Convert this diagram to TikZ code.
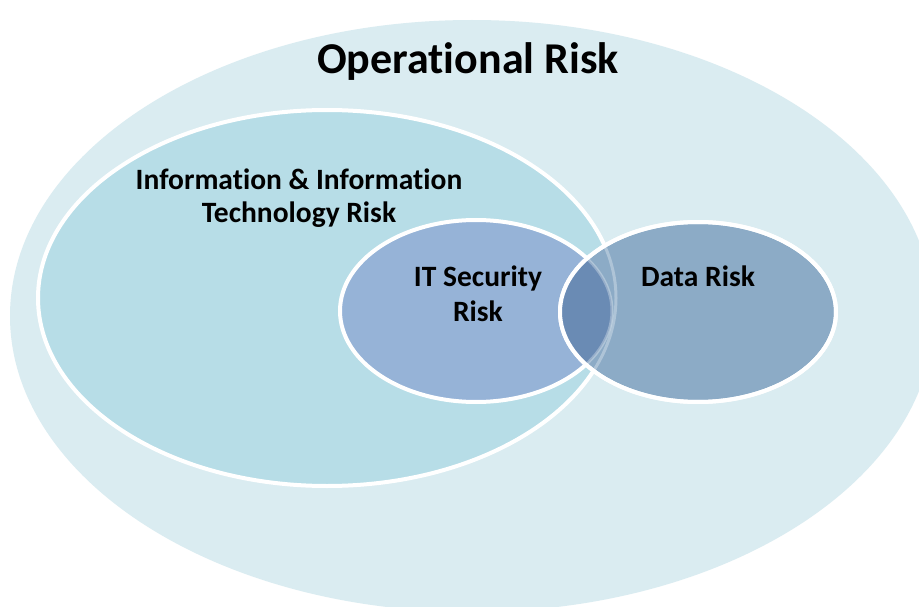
\documentclass[tikz,border=0pt]{standalone}
\usepackage{fontspec}
\setmainfont{Carlito}[Ligatures=NoCommon]
\definecolor{outerc}{HTML}{DAECF1}
\definecolor{infoc}{HTML}{B7DDE7}
\definecolor{itc}{HTML}{96B3D7}
\definecolor{datac}{HTML}{8CABC6}
\definecolor{overc}{HTML}{6A8BB4}
\tikzset{
  ring/.style={draw=white, line width=4pt},
  lbl/.style={font=\bfseries, text=black, align=center, inner sep=0pt}
}
\begin{document}
\begin{tikzpicture}[x=1pt,y=-1pt]
\useasboundingbox (0,0) rectangle (919,607);
\fill[white] (0,0) rectangle (919,607);
% outer
\fill[outerc] (472,316) ellipse [x radius=462, y radius=296];
% info
\path[ring, fill=infoc] (327,298) ellipse [x radius=289, y radius=188];
% IT security
\path[ring, fill=itc] (476,311) ellipse [x radius=136, y radius=91];
% data
\path[ring, fill=datac] (698,312) ellipse [x radius=138, y radius=90];
\begin{scope}
  \clip (476,311) ellipse [x radius=136, y radius=91];
  \fill[overc] (698,312) ellipse [x radius=138, y radius=90];
\end{scope}
\begin{scope}
  \clip (698,312) ellipse [x radius=138, y radius=90];
  \draw[white, opacity=0.3, line width=3pt] (327,298) ellipse [x radius=289, y radius=188];
  \draw[white, opacity=0.3, line width=3pt] (476,311) ellipse [x radius=136, y radius=91];
\end{scope}
\draw[ring] (698,312) ellipse [x radius=138, y radius=90];
% labels
\node[lbl, font=\fontsize{44}{48}\selectfont\bfseries] (op) at (468,62) {Operational Risk};
\node[lbl, font=\fontsize{29.5}{33}\selectfont\bfseries] (info) at (299,198) {Information \& Information\\Technology Risk};
\node[lbl, font=\fontsize{29.5}{35}\selectfont\bfseries] (itsec) at (478,294) {IT Security\\Risk};
\node[lbl, font=\fontsize{29.5}{33}\selectfont\bfseries] (data) at (698,276) {Data Risk};
\end{tikzpicture}
\end{document}
